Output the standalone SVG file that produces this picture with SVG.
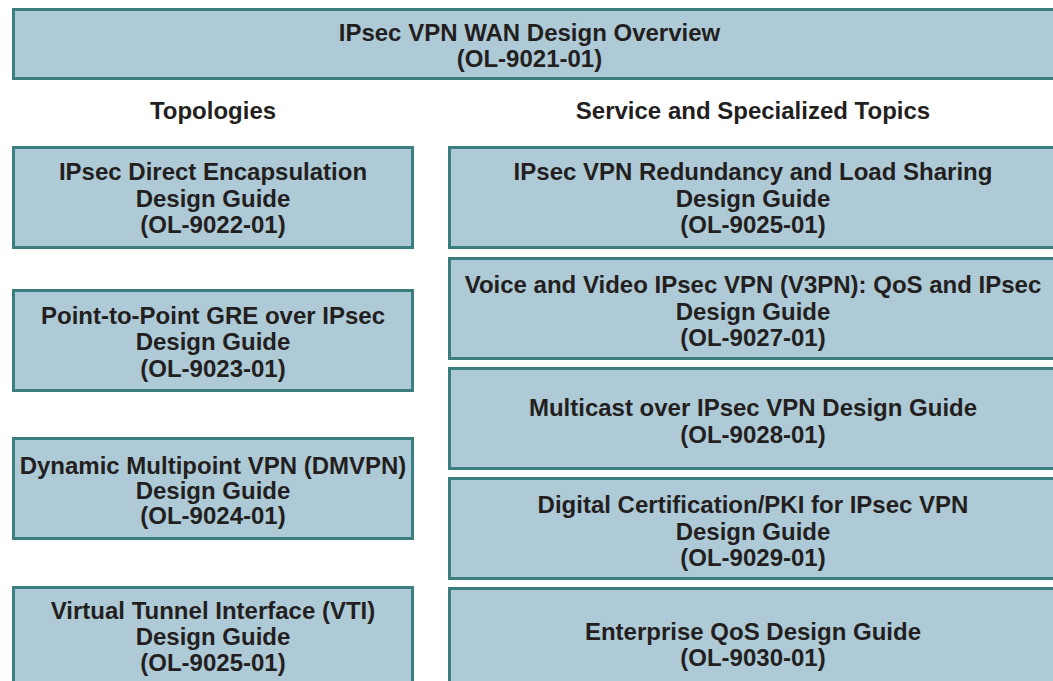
<svg xmlns="http://www.w3.org/2000/svg" width="1053" height="681" viewBox="0 0 1053 681">
<style>
.box{fill:#aecad6;stroke:#3a7e80;stroke-width:3}
.t{font-family:"Liberation Sans",Arial,Helvetica,sans-serif;font-weight:bold;font-size:24px;fill:#231f20;text-anchor:middle}
</style>
<rect width="1053" height="681" fill="#ffffff"/>
<g id="connectors"/>
<g id="title">
<rect class="box" x="13.5" y="9.5" width="1060" height="69"/>
<text class="t" x="529.5" y="41">IPsec VPN WAN Design Overview</text>
<text class="t" x="529.5" y="67">(OL-9021-01)</text>
</g>
<g id="header-topologies">
<text class="t" x="213" y="119">Topologies</text>
</g>
<g id="header-services">
<text class="t" x="753" y="119">Service and Specialized Topics</text>
</g>
<g id="ol-9022">
<rect class="box" x="13.5" y="147.5" width="399" height="100"/>
<text class="t" x="213" y="180">IPsec Direct Encapsulation</text>
<text class="t" x="213" y="207">Design Guide</text>
<text class="t" x="213" y="233">(OL-9022-01)</text>
</g>
<g id="ol-9023">
<rect class="box" x="13.5" y="290.5" width="399" height="100"/>
<text class="t" x="213" y="324">Point-to-Point GRE over IPsec</text>
<text class="t" x="213" y="350">Design Guide</text>
<text class="t" x="213" y="377">(OL-9023-01)</text>
</g>
<g id="ol-9024">
<rect class="box" x="13.5" y="438.5" width="399" height="100"/>
<text class="t" x="213" y="474">Dynamic Multipoint VPN (DMVPN)</text>
<text class="t" x="213" y="499">Design Guide</text>
<text class="t" x="213" y="524">(OL-9024-01)</text>
</g>
<g id="ol-9025-vti">
<rect class="box" x="13.5" y="587.5" width="399" height="120"/>
<text class="t" x="213" y="619">Virtual Tunnel Interface (VTI)</text>
<text class="t" x="213" y="645">Design Guide</text>
<text class="t" x="213" y="671">(OL-9025-01)</text>
</g>
<g id="ol-9025-red">
<rect class="box" x="449.5" y="147.5" width="620" height="100"/>
<text class="t" x="753" y="180">IPsec VPN Redundancy and Load Sharing</text>
<text class="t" x="753" y="207">Design Guide</text>
<text class="t" x="753" y="233">(OL-9025-01)</text>
</g>
<g id="ol-9027">
<rect class="box" x="449.5" y="258.5" width="620" height="100"/>
<text class="t" x="753" y="293">Voice and Video IPsec VPN (V3PN): QoS and IPsec</text>
<text class="t" x="753" y="320">Design Guide</text>
<text class="t" x="753" y="346">(OL-9027-01)</text>
</g>
<g id="ol-9028">
<rect class="box" x="449.5" y="368.5" width="620" height="100"/>
<text class="t" x="753" y="416">Multicast over IPsec VPN Design Guide</text>
<text class="t" x="753" y="443">(OL-9028-01)</text>
</g>
<g id="ol-9029">
<rect class="box" x="449.5" y="478.5" width="620" height="100"/>
<text class="t" x="753" y="513">Digital Certification/PKI for IPsec VPN</text>
<text class="t" x="753" y="540">Design Guide</text>
<text class="t" x="753" y="566">(OL-9029-01)</text>
</g>
<g id="ol-9030">
<rect class="box" x="449.5" y="588.5" width="620" height="120"/>
<text class="t" x="753" y="640">Enterprise QoS Design Guide</text>
<text class="t" x="753" y="666">(OL-9030-01)</text>
</g>
</svg>
